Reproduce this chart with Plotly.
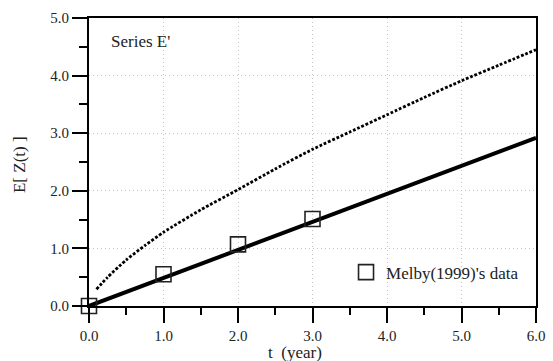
import plotly.graph_objects as go

# Model curves
t_line = [0.0, 6.0]
z_line = [0.0, 2.92]

t_dot = [0.1, 0.25, 0.5, 0.75, 1.0, 1.5, 2.0, 2.5, 3.0, 3.5, 4.0, 4.5, 5.0, 5.5, 6.0]
z_dot = [0.29, 0.50, 0.80, 1.05, 1.28, 1.67, 2.02, 2.38, 2.72, 3.02, 3.32, 3.62, 3.91, 4.18, 4.45]

# Melby (1999) data
t_data = [0.0, 1.0, 2.0, 3.0]
z_data = [0.0, 0.55, 1.07, 1.51]

x_ticks = [0, 1, 2, 3, 4, 5, 6]
y_ticks = [0, 1, 2, 3, 4, 5]

FONT = "Liberation Serif, Times New Roman, serif"

fig = go.Figure()
fig.add_trace(go.Scatter(x=t_dot, y=z_dot, mode="lines", showlegend=False,
                         line=dict(color="black", width=2.8, dash="2.8px,1.8px", shape="spline",
                                   smoothing=0.6)))
fig.add_trace(go.Scatter(x=t_line, y=z_line, mode="lines", showlegend=False,
                         line=dict(color="black", width=4)))
fig.add_trace(go.Scatter(x=t_data, y=z_data, mode="markers", name="Melby(1999)'s data",
                         cliponaxis=False,
                         marker=dict(symbol="square-open", size=15, color="#222",
                                     line=dict(color="#222", width=1.6))))

axis_common = dict(
    showline=True, linecolor="black", linewidth=2, mirror=True,
    ticks="outside", ticklen=15, tickwidth=2, tickcolor="black",
    showgrid=True, gridcolor="#c4c4c4", griddash="1px,3px", gridwidth=1,
    zeroline=False, tickformat=".1f", automargin=False,
    tickfont=dict(family=FONT, size=15, color="#222"),
)

fig.update_xaxes(range=[0, 6], tickvals=x_ticks,
                 minor=dict(dtick=0.5, ticks="outside", ticklen=7, tickwidth=2,
                            tickcolor="black", showgrid=False),
                 **axis_common)
fig.update_yaxes(range=[0, 5], tickvals=y_ticks,
                 minor=dict(dtick=0.5, ticks="outside", ticklen=8, tickwidth=2,
                            tickcolor="black", showgrid=False),
                 **axis_common)

# axis titles
fig.add_annotation(x=0.461, y=-0.16, xref="paper", yref="paper", xanchor="center", yanchor="middle",
                   text="t  (year)", showarrow=False,
                   font=dict(family=FONT, size=17, color="#222"))
fig.add_annotation(x=-0.154, y=0.49, xref="paper", yref="paper", xanchor="center", yanchor="middle",
                   text="E[ Z(t) ]", showarrow=False, textangle=-90,
                   font=dict(family=FONT, size=17, color="#222"))

fig.add_annotation(x=0.045, y=0.92, xref="paper", yref="paper", xanchor="left", yanchor="middle",
                   text="Series E'", showarrow=False,
                   font=dict(family=FONT, size=17, color="#222"))

fig.update_layout(
    width=553, height=361,
    margin=dict(l=89, r=17, t=18, b=55),
    plot_bgcolor="white", paper_bgcolor="white",
    font=dict(family=FONT, color="#222"),
    legend=dict(x=0.575, y=0.116, xanchor="left", yanchor="middle",
                bgcolor="rgba(0,0,0,0)", font=dict(family=FONT, size=17, color="#222")),
)

fig.write_html("out.html")
